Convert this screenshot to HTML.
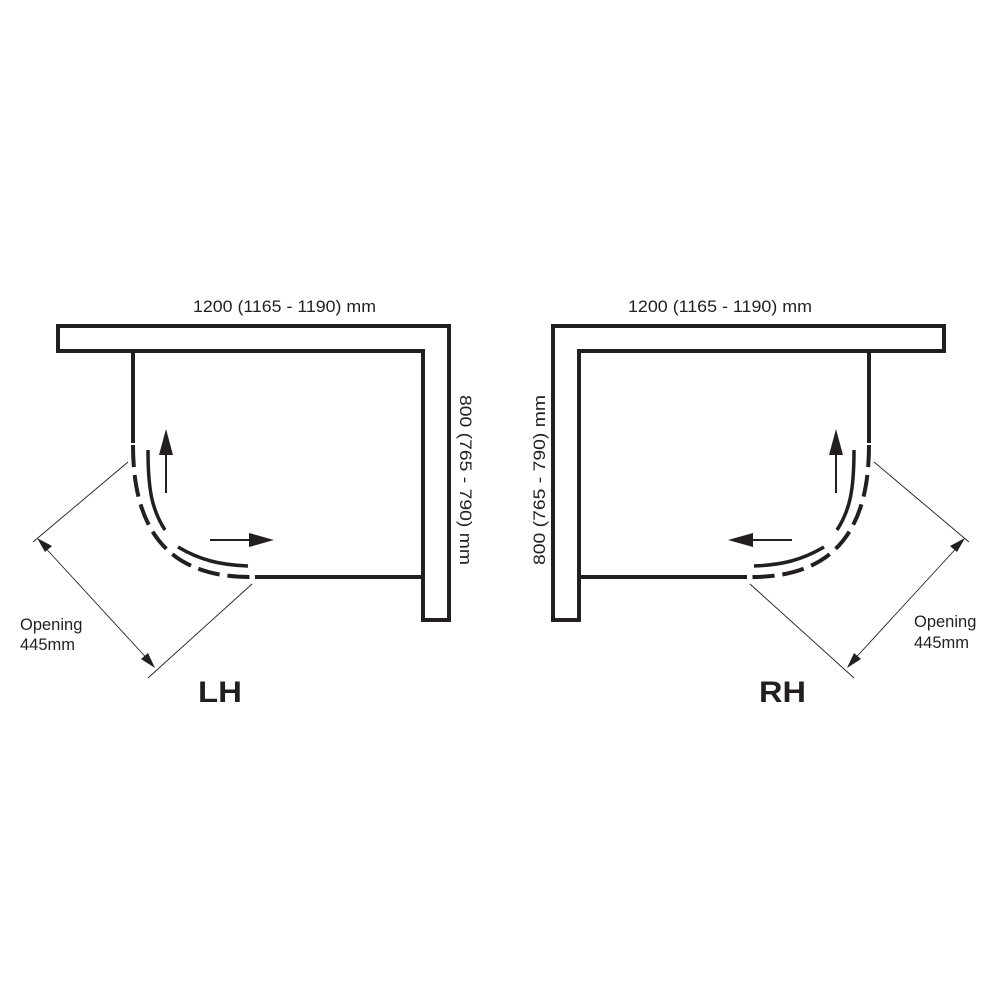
<!DOCTYPE html>
<html><head><meta charset="utf-8"><style>
html,body{margin:0;padding:0;background:#fff;}
svg{display:block;font-family:"Liberation Sans",Arial,sans-serif;}
</style></head><body>
<svg width="1000" height="1000" viewBox="0 0 1000 1000" xmlns="http://www.w3.org/2000/svg">
<defs>
<g id="plan">
  <path d="M58,326 H449 V620 H423 V351 H58 Z" fill="none" stroke="#231f20" stroke-width="4"/>
  <line x1="133" y1="351" x2="133" y2="443" stroke="#231f20" stroke-width="4"/>
  <line x1="255" y1="577" x2="423" y2="577" stroke="#231f20" stroke-width="4"/>
  <path d="M133,445 C133,520 160,577 250,577" fill="none" stroke="#231f20" stroke-width="4" stroke-dasharray="22,8"/>
  <path d="M148,450 C148,490 152,510 165,530" fill="none" stroke="#231f20" stroke-width="3.5"/>
  <path d="M178,547 C200,560 220,565 248,566" fill="none" stroke="#231f20" stroke-width="3.5"/>
  <line x1="166" y1="493" x2="166" y2="452" stroke="#231f20" stroke-width="2"/>
  <polygon points="166,429 159,455 173,455" fill="#231f20"/>
  <line x1="210" y1="540" x2="252" y2="540" stroke="#231f20" stroke-width="2"/>
  <polygon points="274,540 249,533 249,547" fill="#231f20"/>
  <line x1="128" y1="462" x2="33" y2="542" stroke="#231f20" stroke-width="0.9"/>
  <line x1="252" y1="584" x2="148" y2="678" stroke="#231f20" stroke-width="0.9"/>
  <line x1="40" y1="542" x2="152" y2="664" stroke="#231f20" stroke-width="0.9"/>
  <polygon points="37,538 52,546 45,552" fill="#231f20"/>
  <polygon points="155,668 141,659 148,653" fill="#231f20"/>
</g>
</defs>
<use href="#plan"/>
<g transform="translate(1002,0) scale(-1,1)"><use href="#plan"/></g>
<g fill="#231f20" font-size="16.5">
  <text x="193" y="312" textLength="183" lengthAdjust="spacingAndGlyphs">1200 (1165 - 1190) mm</text>
  <text x="628" y="312" textLength="184" lengthAdjust="spacingAndGlyphs">1200 (1165 - 1190) mm</text>
  <text transform="translate(460,395) rotate(90)" textLength="170" lengthAdjust="spacingAndGlyphs">800 (765 - 790) mm</text>
  <text transform="translate(545,565) rotate(-90)" textLength="170" lengthAdjust="spacingAndGlyphs">800 (765 - 790) mm</text>
  <text x="20" y="630">Opening</text>
  <text x="20" y="650">445mm</text>
  <text x="914" y="627">Opening</text>
  <text x="914" y="648">445mm</text>
</g>
<g fill="#231f20" font-size="30" font-weight="bold">
  <text x="198" y="702" textLength="44" lengthAdjust="spacingAndGlyphs">LH</text>
  <text x="759" y="702" textLength="47" lengthAdjust="spacingAndGlyphs">RH</text>
</g>
</svg>
</body></html>
